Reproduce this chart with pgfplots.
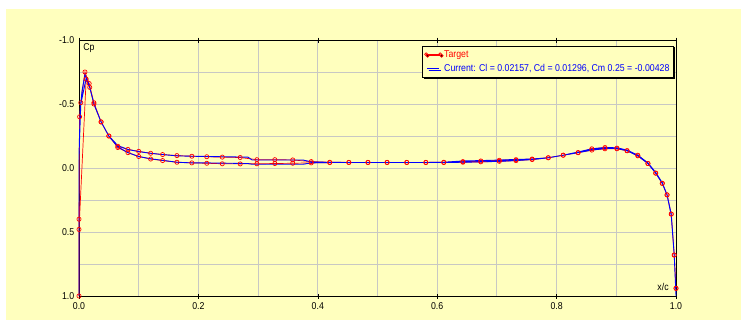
\documentclass[border=0pt]{standalone}
\usepackage{pgfplots}
\pgfplotsset{compat=1.18}
\usepackage{fontspec}
\setmainfont{Liberation Sans}[FakeStretch=0.88]
\usetikzlibrary{shadows}
\definecolor{bgyellow}{RGB}{255,255,190}
\definecolor{gridA}{RGB}{200,200,196}
\definecolor{tred}{RGB}{255,0,0}
\definecolor{cblue}{RGB}{0,0,255}
\begin{document}
\begin{tikzpicture}[x=1bp,y=1bp]
\useasboundingbox (0,0) rectangle (741,320);
\fill[white] (0,0) rectangle (741,320);
\fill[bgyellow] (6,0) rectangle (741,311);
\begin{axis}[
  at={(79bp,24bp)}, anchor=south west,
  scale only axis, width=597bp, height=256bp,
  xmin=0, xmax=1, ymin=-1, ymax=1, y dir=reverse,
  xtick={0,0.2,0.4,0.6,0.8,1}, xticklabels={0.0,0.2,0.4,0.6,0.8,1.0},
  minor xtick={0.1,0.3,0.5,0.7,0.9},
  ytick={-1,-0.5,0,0.5,1}, yticklabels={-1.0,-0.5,0.0,0.5,1.0},
  minor ytick={-0.75,-0.25,0.25,0.75},
  grid=both,
  major grid style={gridA, line width=0.9pt},
  minor grid style={gridA, line width=0.9pt},
  axis line style={black, line width=0.9pt},
  tick align=center, major tick length=5bp, minor tick length=0pt,
  tick style={black, line width=0.6pt},
  ytick style={draw=none},
  ticklabel style={font=\fontsize{10}{12}\selectfont},
  yticklabel style={inner sep=1bp, xshift=-1bp},
  xticklabel style={inner sep=1bp, yshift=-3bp},
  legend style={at={(axis description cs:0.5745,0.977)}, anchor=north west,
    fill=bgyellow, draw=black, line width=0.6pt,
    drop shadow={shadow xshift=1.3pt, shadow yshift=-1.3pt, fill=black, opacity=1},
    font=\fontsize{10}{12}\selectfont, inner xsep=2bp, inner ysep=2bp,
    row sep=2bp, legend cell align=left},
  clip=false,
]
\addplot[tred, line width=0.7pt, mark=o, mark size=2.1pt, mark options={line width=0.7pt},
  legend image code/.code={\draw[tred, line width=0.7pt] (0bp,0bp)--(14bp,0bp);
    \draw[tred, line width=0.7pt] (0bp,0bp) circle (1.6bp) (14bp,0bp) circle (1.6bp);}]
coordinates {
(1.000,0.94)(0.997,0.68)(0.992,0.36)(0.985,0.21)(0.977,0.12)(0.966,0.04)
(0.953,-0.035)(0.936,-0.10)(0.918,-0.135)(0.901,-0.155)(0.881,-0.16)(0.859,-0.15)
(0.836,-0.12)(0.811,-0.10)(0.786,-0.08)(0.759,-0.07)(0.732,-0.065)(0.704,-0.06)
(0.673,-0.055)(0.643,-0.05)(0.611,-0.045)(0.581,-0.044)(0.549,-0.044)(0.516,-0.044)
(0.484,-0.044)(0.452,-0.044)(0.420,-0.045)(0.389,-0.05)(0.358,-0.063)(0.328,-0.065)
(0.298,-0.065)(0.270,-0.082)(0.240,-0.085)(0.214,-0.088)(0.189,-0.092)(0.164,-0.097)
(0.140,-0.105)(0.120,-0.115)(0.100,-0.13)(0.082,-0.145)(0.065,-0.17)(0.050,-0.25)
(0.037,-0.36)(0.025,-0.51)(0.017,-0.66)(0.010,-0.75)(0.003,-0.51)(0.001,-0.40)
(0.000,0.40)(0.000,1.00)
(0.000,0.48)(0.012,-0.695)(0.018,-0.63)(0.025,-0.50)(0.037,-0.36)(0.050,-0.25)
(0.065,-0.16)(0.082,-0.12)(0.100,-0.09)(0.120,-0.07)(0.140,-0.058)(0.164,-0.045)
(0.189,-0.04)(0.214,-0.037)(0.240,-0.033)(0.270,-0.032)(0.298,-0.033)(0.328,-0.035)
(0.358,-0.037)(0.389,-0.04)(0.420,-0.042)(0.452,-0.043)(0.484,-0.043)(0.516,-0.043)
(0.549,-0.043)(0.581,-0.043)(0.611,-0.043)(0.643,-0.045)(0.673,-0.048)(0.704,-0.052)
(0.732,-0.058)(0.759,-0.066)(0.786,-0.08)(0.811,-0.10)(0.836,-0.12)(0.859,-0.14)
(0.881,-0.15)(0.901,-0.15)(0.918,-0.135)(0.936,-0.095)(0.953,-0.035)(0.966,0.04)
(0.977,0.12)(0.985,0.21)(0.992,0.36)(0.997,0.68)(1.000,0.94)
};
\addlegendentry{\textcolor{tred}{Target}}
\addplot[cblue, line width=0.9pt, mark=none,
  legend image code/.code={\draw[cblue, line width=0.9pt] (1bp,0bp)--(13bp,0bp);}]
coordinates {
(1.000,1.00)(0.997,0.68)(0.992,0.37)(0.985,0.21)(0.977,0.115)(0.966,0.035)
(0.953,-0.04)(0.936,-0.10)(0.918,-0.14)(0.901,-0.158)(0.881,-0.16)(0.859,-0.15)
(0.836,-0.125)(0.811,-0.10)(0.786,-0.08)(0.759,-0.07)(0.732,-0.067)(0.704,-0.062)
(0.673,-0.058)(0.643,-0.055)(0.611,-0.045)(0.581,-0.043)(0.549,-0.043)(0.516,-0.043)
(0.484,-0.043)(0.452,-0.043)(0.420,-0.044)(0.389,-0.048)(0.375,-0.0625)(0.328,-0.0625)
(0.290,-0.0625)(0.283,-0.085)(0.240,-0.088)(0.214,-0.09)(0.189,-0.092)(0.164,-0.095)
(0.140,-0.105)(0.120,-0.115)(0.100,-0.128)(0.082,-0.145)(0.065,-0.175)(0.050,-0.25)
(0.037,-0.36)(0.025,-0.50)(0.017,-0.65)(0.010,-0.73)(0.005,-0.60)(0.002,-0.45)
(0.000,-0.10)(0.000,0.26)(0.000,1.00)
(0.000,0.26)(0.000,-0.10)(0.003,-0.50)(0.012,-0.70)(0.018,-0.63)(0.025,-0.50)
(0.037,-0.36)(0.050,-0.25)(0.065,-0.165)(0.082,-0.12)(0.100,-0.09)(0.120,-0.072)
(0.140,-0.06)(0.164,-0.045)(0.189,-0.04)(0.214,-0.04)(0.240,-0.038)(0.283,-0.035)
(0.290,-0.029)(0.328,-0.029)(0.375,-0.029)(0.389,-0.04)(0.420,-0.043)(0.452,-0.043)
(0.484,-0.043)(0.516,-0.043)(0.549,-0.043)(0.581,-0.043)(0.611,-0.043)(0.643,-0.045)
(0.673,-0.048)(0.704,-0.052)(0.732,-0.058)(0.759,-0.066)(0.786,-0.08)(0.811,-0.10)
(0.836,-0.12)(0.859,-0.14)(0.881,-0.152)(0.901,-0.152)(0.918,-0.135)(0.936,-0.095)
(0.953,-0.035)(0.966,0.04)(0.977,0.12)(0.985,0.21)(0.992,0.36)(0.997,0.68)(1.000,1.00)
};
\addlegendentry{\textcolor{cblue}{Current: Cl = 0.02157, Cd = 0.01296, Cm 0.25 = -0.00428}}
\node[anchor=north west, inner sep=0pt, font=\fontsize{10}{12}\selectfont] at (axis description cs:0.007,0.985) {Cp};
\node[anchor=south east, inner sep=0pt, font=\fontsize{10}{12}\selectfont] at (axis description cs:0.988,0.02) {x/c};
\end{axis}
\end{tikzpicture}
\end{document}
